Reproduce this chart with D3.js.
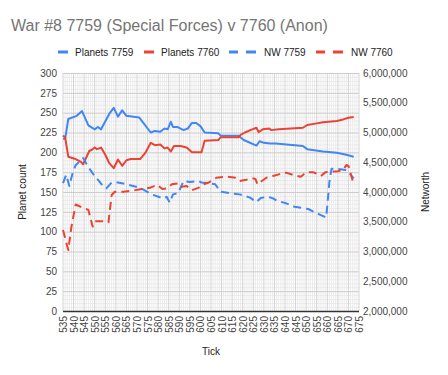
<!DOCTYPE html>
<html>
<head>
<meta charset="utf-8">
<script src="https://cdnjs.cloudflare.com/ajax/libs/d3/7.8.5/d3.min.js"></script>
<style>
  body { margin: 0; background: #fff; }
  svg { font-family: Arial, "Liberation Sans", sans-serif; display: block; }
</style>
</head>
<body>
<svg id="chart" width="448" height="375"></svg>
<script>
// data: [tick, value]
const planets7759 = [
  [535, 217], [536, 217], [537.5, 242], [541.5, 246], [544, 252], [547, 234], [550, 229],
  [551.5, 232], [553, 229], [557, 249], [559, 256], [561, 245], [563, 253], [565, 246],
  [571, 244], [576.5, 225], [578.5, 227], [581, 226], [583, 230], [584.5, 229], [586, 238.5],
  [587, 232], [589, 232], [592, 228], [594, 230], [596, 237], [598, 237], [600, 233],
  [602, 225], [608.5, 224], [609.5, 221], [618, 221], [620.5, 215.5], [626.5, 208.5],
  [628, 214], [630, 212], [633, 211], [635.5, 211], [648.5, 208], [650.5, 204], [658, 201],
  [664.5, 199.5], [669, 197], [672.5, 194.5]
];
const planets7760 = [
  [535, 221], [536, 219], [537.5, 194.5], [540.5, 192], [543.5, 188], [544.5, 185],
  [547.5, 202], [548.5, 203], [550, 206], [551, 204], [553, 206], [555, 197], [557, 186],
  [559, 180], [561, 191], [563, 183], [565, 190], [567, 191.5], [571.5, 191.5], [574, 199.5],
  [576.5, 212], [578.5, 209], [581, 210], [583, 205], [584.5, 206], [586, 201], [587.5, 208],
  [590.5, 208], [593.5, 206], [596, 200], [600.5, 200], [602, 214.5], [608.5, 215.5],
  [609.5, 219], [618, 219], [619, 222], [621, 225], [624.5, 229], [626.5, 231],
  [627.5, 225.5], [629.5, 229], [632.5, 230], [633.5, 228], [637, 229], [648.5, 231],
  [650.5, 234.5], [655, 236.5], [658, 238], [664.5, 239.5], [667.5, 241.5], [670, 243.5],
  [672.5, 244.5]
];
const nw7759 = [
  [535, 4150000], [536.5, 4290000], [538, 4100000], [539.5, 4310000], [541, 4450000],
  [544.5, 4570000], [547, 4420000], [549.5, 4290000], [553.5, 4120000], [555.5, 4060000],
  [558, 4160000], [561, 4160000], [565, 4130000], [571.5, 4070000], [577, 3960000],
  [582.5, 3890000], [584, 3920000], [585.5, 3820000], [587, 3960000], [589.5, 3980000],
  [592, 4185000], [595, 4170000], [599, 4185000], [600.5, 4160000], [604.5, 4146000],
  [607, 4130000], [609.5, 4005000], [614, 3980000], [618.5, 3960000], [623.5, 3905000],
  [626.5, 3830000], [628.5, 3900000], [632, 3920000], [634.5, 3890000], [636.5, 3850000],
  [640.5, 3810000], [644.5, 3753000], [651, 3714000], [653.5, 3670000], [657, 3610000],
  [659.5, 3570000], [661, 4170000], [662, 4390000], [665, 4390000], [668.5, 4370000],
  [670, 4330000], [672.5, 4230000]
];
const nw7760 = [
  [535, 3360000], [537.5, 3025000], [539, 3420000], [541, 3790000], [544.5, 3730000],
  [547, 3700000], [549, 3420000], [550, 3510000], [553.5, 3510000], [556.5, 3490000],
  [558, 3950000], [559.5, 4005000], [563.5, 4005000], [567.5, 4020000], [571.5, 4045000],
  [576, 4070000], [579.5, 4120000], [582, 4050000], [584, 4060000], [586.5, 4130000],
  [590, 4146000], [591, 4090000], [593.5, 4100000], [596, 4030000], [599, 4070000],
  [601.5, 4130000], [604, 4160000], [607.5, 4240000], [612.5, 4257000], [616.5, 4240000],
  [618.5, 4185000], [621, 4200000], [624.5, 4230000], [626, 4220000], [627, 4130000],
  [629, 4185000], [631.2, 4240000], [634.3, 4270000], [637.5, 4300000], [640.5, 4325000],
  [644, 4286000], [647.5, 4257000], [650, 4330000], [653.5, 4330000], [655.5, 4300000],
  [657, 4270000], [659, 4330000], [661, 4340000], [665, 4350000], [667.5, 4370000],
  [669, 4454000], [670, 4440000], [671.5, 4257000], [672.5, 4130000]
];
const xTicks = d3.range(535, 676, 5);
const leftTicks = [0, 25, 50, 75, 100, 125, 150, 175, 200, 225, 250, 275, 300];
const rightTicks = [2000000, 2500000, 3000000, 3500000, 4000000, 4500000, 5000000, 5500000, 6000000];

const series = [
  { name: 'Planets 7759', data: planets7759, color: '#4285f4', dashed: false, axis: 'left' },
  { name: 'Planets 7760', data: planets7760, color: '#ea4335', dashed: false, axis: 'left' },
  { name: 'NW 7759', data: nw7759, color: '#4285f4', dashed: true, axis: 'right' },
  { name: 'NW 7760', data: nw7760, color: '#ea4335', dashed: true, axis: 'right' }
];

const area = { left: 63, right: 359, top: 73, bottom: 311 };
const svg = d3.select('#chart');

const x = d3.scaleLinear().domain([535, 675]).range([area.left, area.right]);
const yLeft = d3.scaleLinear().domain([0, 300]).range([area.bottom, area.top]);
const yRight = d3.scaleLinear().domain([2000000, 6000000]).range([area.bottom, area.top]);

// title
svg.append('text')
  .attr('x', 11).attr('y', 31)
  .attr('font-size', 16).attr('fill', '#757575')
  .text('War #8 7759 (Special Forces) v 7760 (Anon)');

// minor grid
const grid = svg.append('g');
grid.selectAll('.minor-v')
  .data(d3.range(535, 676, 1).filter(t => (t - 535) % 5 !== 0))
  .enter().append('line')
  .attr('x1', d => x(d)).attr('x2', d => x(d))
  .attr('y1', area.top).attr('y2', area.bottom)
  .attr('stroke', '#ebebeb').attr('stroke-width', 1);
grid.selectAll('.minor-h')
  .data(d3.range(0, 301, 5).filter(v => v % 25 !== 0))
  .enter().append('line')
  .attr('x1', area.left).attr('x2', area.right)
  .attr('y1', d => yLeft(d) + 0.5).attr('y2', d => yLeft(d) + 0.5)
  .attr('stroke', '#ebebeb').attr('stroke-width', 1);

// major grid
grid.selectAll('.major-v')
  .data(xTicks)
  .enter().append('line')
  .attr('x1', d => x(d)).attr('x2', d => x(d))
  .attr('y1', area.top).attr('y2', area.bottom)
  .attr('stroke', '#d4d4d4').attr('stroke-width', 1);
grid.selectAll('.major-h')
  .data(leftTicks)
  .enter().append('line')
  .attr('x1', area.left).attr('x2', area.right)
  .attr('y1', d => yLeft(d) + 0.5).attr('y2', d => yLeft(d) + 0.5)
  .attr('stroke', '#cccccc').attr('stroke-width', 1);

// baseline
svg.append('line')
  .attr('x1', area.left).attr('x2', area.right)
  .attr('y1', area.bottom + 0.5).attr('y2', area.bottom + 0.5)
  .attr('stroke', '#333').attr('stroke-width', 1.5);

// left axis
const leftAxis = d3.axisLeft(yLeft).tickValues(leftTicks).tickSize(0).tickPadding(6);
svg.append('g')
  .attr('transform', `translate(${area.left},0)`)
  .call(leftAxis)
  .call(g => g.select('.domain').remove())
  .call(g => g.selectAll('text').attr('font-size', 10).attr('fill', '#444').attr('font-family', null));

// right axis
const rightAxis = d3.axisRight(yRight).tickValues(rightTicks).tickSize(0).tickPadding(4)
  .tickFormat(d3.format(','));
svg.append('g')
  .attr('transform', `translate(${area.right},0)`)
  .call(rightAxis)
  .call(g => g.select('.domain').remove())
  .call(g => g.selectAll('text').attr('font-size', 10).attr('fill', '#444').attr('font-family', null));

// x axis, rotated labels
const xAxis = d3.axisBottom(x).tickValues(xTicks).tickSize(0).tickPadding(0);
svg.append('g')
  .attr('transform', `translate(0,${area.bottom})`)
  .call(xAxis)
  .call(g => g.select('.domain').remove())
  .call(g => g.selectAll('text')
    .attr('font-size', 10).attr('fill', '#444').attr('font-family', null)
    .attr('text-anchor', 'end')
    .attr('dy', '0.35em')
    .attr('transform', 'translate(0,5) rotate(-90)')
    .attr('y', 0).attr('x', 0));

// axis titles
svg.append('text')
  .attr('transform', `translate(26,${(area.top + area.bottom) / 2}) rotate(-90)`)
  .attr('text-anchor', 'middle').attr('font-size', 10).attr('fill', '#222')
  .text('Planet count');
svg.append('text')
  .attr('transform', `translate(429,${(area.top + area.bottom) / 2}) rotate(-90)`)
  .attr('text-anchor', 'middle').attr('font-size', 10).attr('fill', '#222')
  .text('Networth');
svg.append('text')
  .attr('x', (area.left + area.right) / 2).attr('y', 355)
  .attr('text-anchor', 'middle').attr('font-size', 10).attr('fill', '#222')
  .text('Tick');

// lines
const lines = svg.append('g');
series.forEach(s => {
  const y = s.axis === 'left' ? yLeft : yRight;
  const line = d3.line().x(d => x(d[0])).y(d => y(d[1]));
  lines.append('path')
    .datum(s.data)
    .attr('d', line)
    .attr('fill', 'none')
    .attr('stroke', s.color)
    .attr('stroke-width', 2)
    .attr('stroke-linejoin', 'round')
    .attr('stroke-dasharray', s.dashed ? '8,5' : null);
});

// legend
const legendX = [58, 144, 229, 316];
const legend = svg.append('g');
series.forEach((s, i) => {
  const g = legend.append('g').attr('transform', `translate(${legendX[i]},52)`);
  if (s.dashed) {
    g.append('line').attr('x1', 0).attr('x2', 9).attr('y1', 0).attr('y2', 0)
      .attr('stroke', s.color).attr('stroke-width', 3);
    g.append('line').attr('x1', 17).attr('x2', 27).attr('y1', 0).attr('y2', 0)
      .attr('stroke', s.color).attr('stroke-width', 3);
  } else {
    g.append('line').attr('x1', 0).attr('x2', 10).attr('y1', 0).attr('y2', 0)
      .attr('stroke', s.color).attr('stroke-width', 3);
  }
  g.append('text')
    .attr('x', s.dashed ? 35 : 17).attr('y', 0).attr('dy', '0.35em')
    .attr('font-size', 10).attr('fill', '#222')
    .text(s.name);
});
</script>
</body>
</html>
